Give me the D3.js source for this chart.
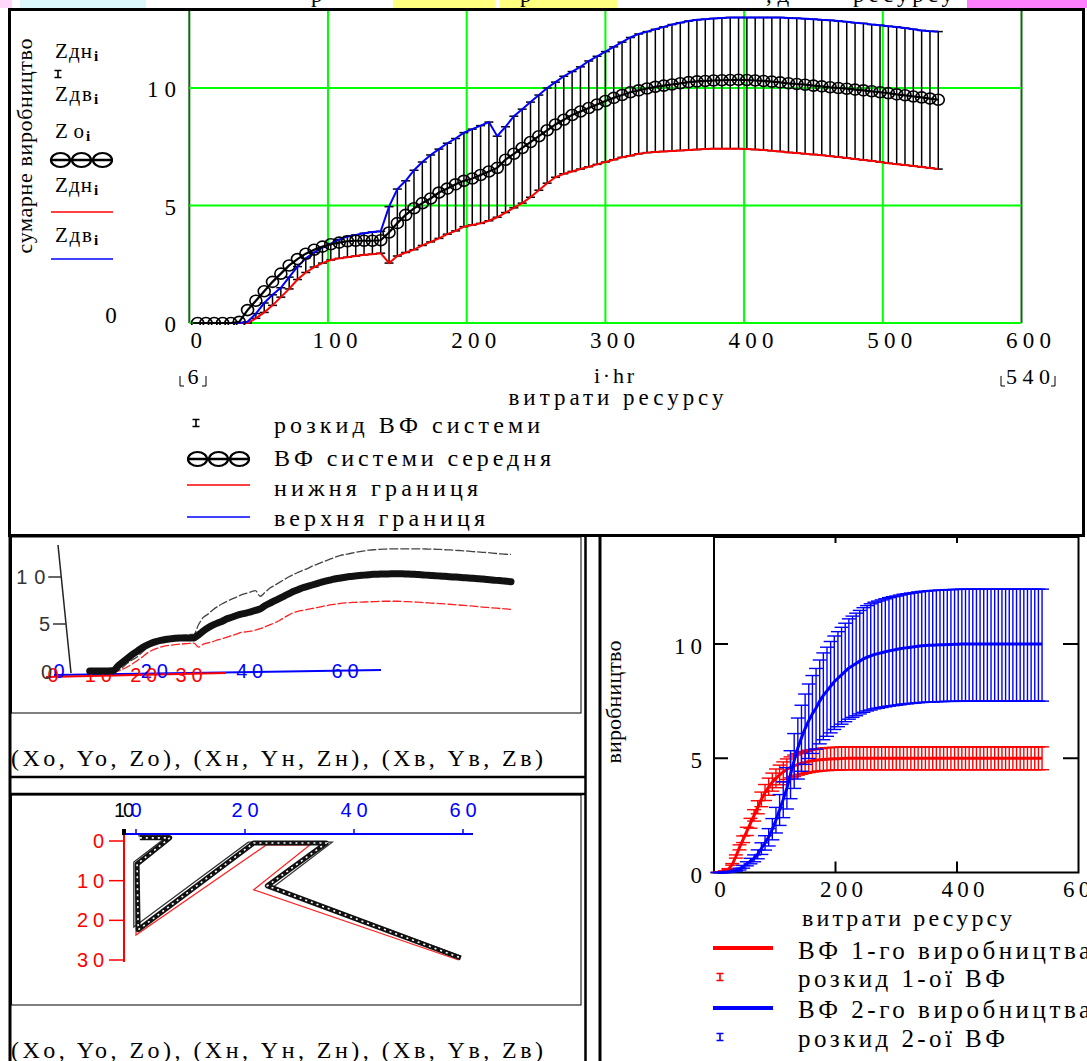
<!DOCTYPE html>
<html><head><meta charset="utf-8">
<script src="https://cdn.jsdelivr.net/npm/d3@7"></script>
<style>body{margin:0;background:#fff}svg{display:block}</style>
</head><body>
<svg id="c" width="1087" height="1061"></svg>
<script>
// ================= DATA =================
// main chart: resource spent i*hr (hr = 6), i = 1..90
const resource = [6,12,18,24,30,36,42,48,54,60,66,72,78,84,90,96,102,108,114,120,
 126,132,138,144,150,156,162,168,174,180,186,192,198,204,210,216,222,228,234,240,
 246,252,258,264,270,276,282,288,294,300,306,312,318,324,330,336,342,348,354,360,
 366,372,378,384,390,396,402,408,414,420,426,432,438,444,450,456,462,468,474,480,
 486,492,498,504,510,516,522,528,534,540];
// mean system output Zo
const zMean = [0,0,0,0,0,0.05,0.55,0.95,1.35,1.75,
 2.1,2.45,2.72,2.95,3.12,3.25,3.35,3.42,3.48,3.5,
 3.5,3.5,3.52,3.85,4.25,4.6,4.88,5.1,5.3,5.55,
 5.72,5.9,6.05,6.15,6.3,6.45,6.6,6.95,7.2,7.45,
 7.7,7.95,8.2,8.45,8.65,8.85,9.0,9.15,9.3,9.45,
 9.58,9.7,9.82,9.9,9.98,10.05,10.1,10.15,10.2,10.25,
 10.28,10.3,10.32,10.33,10.34,10.35,10.34,10.32,10.3,10.27,
 10.24,10.2,10.17,10.14,10.1,10.07,10.03,10.0,9.97,9.93,
 9.9,9.86,9.82,9.78,9.73,9.69,9.64,9.6,9.55,9.5];
// upper bound Zдв
const zUpper = [0,0,0,0,0,0,0.05,0.4,0.85,1.2,
 1.5,1.95,2.4,2.75,3.0,3.22,3.38,3.55,3.68,3.75,
 3.82,3.87,3.9,4.95,5.7,6.05,6.5,6.85,7.15,7.4,
 7.65,7.85,8.1,8.25,8.4,8.55,7.95,8.35,8.8,9.1,
 9.4,9.7,10.0,10.25,10.5,10.7,10.9,11.15,11.35,11.55,
 11.75,11.95,12.15,12.3,12.4,12.5,12.6,12.7,12.78,12.85,
 12.9,12.93,12.96,12.98,13.0,13.0,13.0,13.0,13.0,13.0,
 13.0,12.98,12.97,12.95,12.93,12.9,12.88,12.85,12.82,12.78,
 12.75,12.7,12.67,12.63,12.6,12.55,12.5,12.45,12.42,12.4];
// lower bound Zдн
const zLower = [0,0,0,0,0,0,0,0.2,0.45,0.75,
 1.1,1.45,1.85,2.15,2.38,2.55,2.68,2.75,2.8,2.85,
 2.9,2.93,2.97,2.55,2.85,3.0,3.12,3.3,3.45,3.6,
 3.78,3.92,4.1,4.17,4.24,4.35,4.5,4.7,4.9,5.1,
 5.35,5.65,5.95,6.2,6.35,6.45,6.55,6.65,6.75,6.85,
 6.95,7.05,7.12,7.2,7.25,7.28,7.3,7.32,7.34,7.36,
 7.38,7.4,7.42,7.42,7.42,7.42,7.4,7.38,7.36,7.33,
 7.3,7.26,7.23,7.2,7.17,7.14,7.1,7.06,7.02,6.98,
 6.94,6.9,6.85,6.8,6.76,6.72,6.68,6.64,6.6,6.55];
const mainXTicks = [0,100,200,300,400,500,600];
const mainYTicks = [0,5,10];

// bottom-right chart: two productions
const prod1 = [0,0.02,0.06,0.15,0.35,0.7,1.1,1.45,1.8,2.15,
 2.5,2.85,3.2,3.5,3.75,3.95,4.12,4.27,4.4,4.52,
 4.6,4.67,4.73,4.78,4.82,4.86,4.89,4.91,4.93,4.95,
 4.96,4.97,4.98,4.98,4.99,5,5,5,5,5,
 5,5,5,5,5,5,5,5,5,5, 5,5,5,5,5,5,5,5,5,5,
 5,5,5,5,5,5,5,5,5,5, 5,5,5,5,5,5,5,5,5,5, 5,5,5,5,5,5,5,5,5,5];
const prod1Low = [0,0.02,0.05,0.14,0.32,0.63,0.99,1.31,1.62,1.94,
 2.25,2.57,2.88,3.15,3.38,3.56,3.71,3.84,3.96,4.07,
 4.14,4.2,4.26,4.3,4.34,4.37,4.4,4.42,4.44,4.46,
 4.46,4.47,4.48,4.48,4.49,4.5,4.5,4.5,4.5,4.5,
 4.5,4.5,4.5,4.5,4.5,4.5,4.5,4.5,4.5,4.5, 4.5,4.5,4.5,4.5,4.5,4.5,4.5,4.5,4.5,4.5,
 4.5,4.5,4.5,4.5,4.5,4.5,4.5,4.5,4.5,4.5, 4.5,4.5,4.5,4.5,4.5,4.5,4.5,4.5,4.5,4.5, 4.5,4.5,4.5,4.5,4.5,4.5,4.5,4.5,4.5,4.5];
const prod1High = [0,0.02,0.07,0.17,0.39,0.77,1.21,1.6,1.98,2.37,
 2.75,3.14,3.52,3.85,4.13,4.35,4.53,4.7,4.84,4.97,
 5.06,5.14,5.2,5.26,5.3,5.35,5.38,5.4,5.42,5.45,
 5.46,5.47,5.48,5.48,5.49,5.5,5.5,5.5,5.5,5.5,
 5.5,5.5,5.5,5.5,5.5,5.5,5.5,5.5,5.5,5.5, 5.5,5.5,5.5,5.5,5.5,5.5,5.5,5.5,5.5,5.5,
 5.5,5.5,5.5,5.5,5.5,5.5,5.5,5.5,5.5,5.5, 5.5,5.5,5.5,5.5,5.5,5.5,5.5,5.5,5.5,5.5, 5.5,5.5,5.5,5.5,5.5,5.5,5.5,5.5,5.5,5.5];
const prod2 = [0,0,0.01,0.02,0.04,0.08,0.15,0.25,0.38,0.5,
 0.62,0.8,1.05,1.3,1.55,1.9,2.3,2.75,3.2,3.7,
 4.3,4.9,5.45,5.9,6.3,6.65,6.95,7.2,7.5,7.75,
 7.95,8.15,8.35,8.5,8.65,8.8,8.95,9.05,9.15,9.25,
 9.35,9.42,9.48,9.54,9.58,9.62,9.66,9.7,9.73,9.76,
 9.79,9.82,9.84,9.86,9.88,9.9,9.92,9.93,9.94,9.95,
 9.96,9.97,9.97,9.98,9.98,9.99,9.99,10,10,10,
 10,10,10,10,10,10,10,10,10,10, 10,10,10,10,10,10,10,10,10,10];
const prod2Low = [0,0,0.01,0.02,0.03,0.06,0.11,0.19,0.29,0.38,
 0.47,0.6,0.79,0.98,1.16,1.43,1.73,2.06,2.4,2.78,
 3.23,3.68,4.09,4.43,4.73,4.99,5.21,5.4,5.63,5.81,
 5.96,6.11,6.26,6.38,6.49,6.6,6.71,6.79,6.86,6.94,
 7.01,7.07,7.11,7.16,7.19,7.22,7.25,7.28,7.3,7.32,
 7.34,7.37,7.38,7.4,7.41,7.43,7.44,7.45,7.46,7.46,
 7.47,7.48,7.48,7.49,7.49,7.49,7.49,7.5,7.5,7.5,
 7.5,7.5,7.5,7.5,7.5,7.5,7.5,7.5,7.5,7.5, 7.5,7.5,7.5,7.5,7.5,7.5,7.5,7.5,7.5,7.5];
const prod2High = [0,0,0.01,0.02,0.05,0.1,0.19,0.31,0.47,0.62,
 0.77,0.99,1.3,1.61,1.92,2.36,2.85,3.41,3.97,4.59,
 5.33,6.08,6.76,7.32,7.81,8.25,8.62,8.93,9.3,9.61,
 9.86,10.11,10.35,10.54,10.73,10.91,11.1,11.22,11.35,11.47,
 11.59,11.68,11.76,11.83,11.88,11.93,11.98,12.03,12.07,12.1,
 12.14,12.18,12.2,12.23,12.25,12.28,12.3,12.31,12.33,12.34,
 12.35,12.36,12.36,12.38,12.38,12.39,12.39,12.4,12.4,12.4,
 12.4,12.4,12.4,12.4,12.4,12.4,12.4,12.4,12.4,12.4, 12.4,12.4,12.4,12.4,12.4,12.4,12.4,12.4,12.4,12.4];
const brXTicks = [0,200,400,600];
const brYTicks = [0,5,10];

// 3D panel (top view) projected paths, in (blue-axis units, red-axis units)
const topViewUpper = [[0.4,-1.3],[5.9,-1.3],[-0.4,5.3],[-0.4,21.7],[20.6,0.3],[36.0,0.3],[25.2,11.6],[59.6,29.0]];
const topViewMean  = [[0.7,-0.8],[6.2,-0.8],[0.2,5.8],[0.4,22.4],[21.6,0.5],[34.9,0.5],[24.1,11.3],[59.6,29.5]];
const topViewLower = [[0.9,-0.5],[5.5,-0.5],[0.0,6.3],[0.0,23.7],[23.9,1.0],[31.9,1.0],[21.6,12.3],[59.2,30.0]];
const p1RedTicks = [0,10,20,30];
const p1BlueTicks = [0,20,40,60];
const p1ZTicks = [0,5,10];
const p2RedTicks = [0,10,20,30];
const p2BlueTicks = [20,40,60];

// ================= DRAW =================
const svg = d3.select('#c');
const SERIF = "'Liberation Serif','Times New Roman',serif";
const SANS = "'Liberation Sans',Arial,sans-serif";
function txt(g, s, x, y, o = {}) {
  const t = g.append('text').attr('x', x).attr('y', y).text(s)
    .attr('font-family', o.ff || SERIF).attr('font-size', o.fs || 21)
    .attr('fill', o.fill || '#000').attr('text-anchor', o.anchor || 'start');
  if (o.len) t.attr('textLength', o.len).attr('lengthAdjust', o.adj || 'spacing');
  if (o.rot) t.attr('transform', `rotate(${o.rot},${x},${y})`);
  if (o.bold) t.attr('font-weight', 'bold');
  return t;
}
const defs = svg.append('defs');

// ---- top strip (cropped worksheet above) ----
const strip = svg.append('g');
strip.append('rect').attr('x',0).attr('y',0).attr('width',12).attr('height',8).attr('fill','#ffd8fa');
strip.append('rect').attr('x',20).attr('y',0).attr('width',126).attr('height',8).attr('fill','#dcf8fc');
strip.append('rect').attr('x',393).attr('y',0).attr('width',102).attr('height',8).attr('fill','#ffff80');
strip.append('rect').attr('x',500).attr('y',0).attr('width',117).attr('height',8).attr('fill','#ffff80');
strip.append('rect').attr('x',967).attr('y',0).attr('width',120).attr('height',8).attr('fill','#ff80ff');
txt(strip,'р',311,2,{fs:23});
txt(strip,'р',520,2,{fs:23});
txt(strip,', д',766,2,{fs:23});
txt(strip,'ресурсу',853,2,{fs:23,len:100});

// ---- frames ----
const fr = svg.append('g').attr('fill','none').attr('stroke','#000');
fr.append('rect').attr('x',9.5).attr('y',9.5).attr('width',1074).attr('height',526).attr('stroke-width',3);
fr.append('line').attr('x1',10).attr('x2',10).attr('y1',536).attr('y2',1061).attr('stroke-width',3);
fr.append('line').attr('x1',585.5).attr('x2',585.5).attr('y1',536).attr('y2',1061).attr('stroke-width',2.5);
fr.append('line').attr('x1',10).attr('x2',586).attr('y1',777).attr('y2',777).attr('stroke-width',2.5);
fr.append('line').attr('x1',10).attr('x2',586).attr('y1',794).attr('y2',794).attr('stroke-width',2.5);
fr.append('rect').attr('x',11.5).attr('y',537).attr('width',569.5).attr('height',176).attr('stroke-width',1);
fr.append('rect').attr('x',11.5).attr('y',795).attr('width',569.5).attr('height',210).attr('stroke-width',1);
fr.append('line').attr('x1',600).attr('x2',600).attr('y1',536).attr('y2',1061).attr('stroke-width',3);

// ================= MAIN CHART =================
const mx = d3.scaleLinear().domain([0,600]).range([189.3,1021.5]);
const my = d3.scaleLinear().domain([0,10]).range([323,88]);
defs.append('clipPath').attr('id','clipMain').append('rect')
  .attr('x',187).attr('y',11).attr('width',838).attr('height',314);
const mg = svg.append('g');
const plot = mg.append('g').attr('clip-path','url(#clipMain)');
// grid
plot.selectAll('.gv').data(mainXTicks).join('line')
  .attr('x1',d=>mx(d)).attr('x2',d=>mx(d)).attr('y1',my(0)).attr('y2',my(14))
  .attr('stroke',d=> (d===0||d===600)?'#0b6b0b':'#00ff00').attr('stroke-width',2);
plot.selectAll('.gh').data(mainYTicks).join('line')
  .attr('x1',mx(0)).attr('x2',mx(600)).attr('y1',d=>my(d)).attr('y2',d=>my(d))
  .attr('stroke','#00ff00').attr('stroke-width',2);
// error bars
const eb = plot.append('g').attr('stroke','#000').attr('stroke-width',1.5);
eb.selectAll('.v').data(resource).join('line')
  .attr('x1',d=>mx(d)).attr('x2',d=>mx(d))
  .attr('y1',(d,i)=>my(zLower[i])).attr('y2',(d,i)=>my(zUpper[i]));
eb.selectAll('.t').data(resource).join('line')
  .attr('x1',d=>mx(d)-4.5).attr('x2',d=>mx(d)+4.5)
  .attr('y1',(d,i)=>my(zUpper[i])).attr('y2',(d,i)=>my(zUpper[i]));
eb.selectAll('.b').data(resource).join('line')
  .attr('x1',d=>mx(d)-4.5).attr('x2',d=>mx(d)+4.5)
  .attr('y1',(d,i)=>my(zLower[i])).attr('y2',(d,i)=>my(zLower[i]));
const lineM = arr => d3.line().x((d,i)=>mx(resource[i])).y(d=>my(d))(arr);
plot.append('path').attr('d',lineM(zLower)).attr('fill','none').attr('stroke','#ff0000').attr('stroke-width',2);
plot.append('path').attr('d',lineM(zUpper)).attr('fill','none').attr('stroke','#0000ff').attr('stroke-width',2);
plot.append('path').attr('d',lineM(zMean)).attr('fill','none').attr('stroke','#000').attr('stroke-width',2.2);
plot.selectAll('.mc').data(zMean).join('ellipse')
  .attr('cx',(d,i)=>mx(resource[i])).attr('cy',d=>my(d)).attr('rx',6).attr('ry',5.5)
  .attr('fill','none').attr('stroke','#000').attr('stroke-width',1.6);

// axis labels
mainXTicks.forEach(t => {
  const s = String(t);
  txt(mg, s, mx(t)+7, 348, {fs:23, anchor:'middle', len: s.length===1?12:45});
});
mainYTicks.forEach(t => {
  const s = String(t);
  txt(mg, s, 176, my(t)+9, {fs:23, anchor:'end', len: s.length===1?12:29});
});
txt(mg,'0',111,323,{fs:23,anchor:'middle',len:12});
txt(mg,'сумарне виробництво',32,146,{fs:22,anchor:'middle',rot:-90,len:215});
// range markers
function bracketed(g, s, x0, x1, base){
  txt(g, s, (x0+x1)/2, base, {fs:22, anchor:'middle', len:(x1-x0)-10});
  g.append('path').attr('d',`M${x0},${base-8}V${base+2}H${x0+4}M${x1},${base-8}V${base+2}H${x1-4}`)
    .attr('fill','none').attr('stroke','#000').attr('stroke-width',1);
}
bracketed(mg,'6',180,206,384);
bracketed(mg,'540',1001,1055,384);
txt(mg,'i·hr',614,383,{fs:22,anchor:'middle',len:40});
txt(mg,'витрати ресурсу',616,405,{fs:23,anchor:'middle',len:215});

// left legend
function ibeam(g, x, y, color){
  g.append('path').attr('d',`M${x-3.5},${y-3.5}H${x+3.5}M${x},${y-3.5}V${y+3.5}M${x-3.5},${y+3.5}H${x+3.5}`)
    .attr('stroke',color).attr('stroke-width',1.6).attr('fill','none');
}
function beads(g, x0, y){
  g.append('line').attr('x1',x0).attr('x2',x0+63).attr('y1',y).attr('y2',y).attr('stroke','#000').attr('stroke-width',2.5);
  [10.5,31.5,52.5].forEach(o => g.append('ellipse').attr('cx',x0+o).attr('cy',y).attr('rx',9.5).attr('ry',7)
    .attr('fill','none').attr('stroke','#000').attr('stroke-width',2.2));
}
function zlab(g, main, x, y, len){
  txt(g, main, x, y, {fs:21, len:len});
  txt(g, 'i', x+len+2, y+3, {fs:15, bold:true});
}
zlab(mg,'Zдн',55,58,37);
ibeam(mg,58,74,'#000');
zlab(mg,'Zдв',55,101,37);
zlab(mg,'Zo',55,138,29);
beads(mg,50,160);
zlab(mg,'Zдн',55,192,37);
mg.append('line').attr('x1',51).attr('x2',113).attr('y1',212).attr('y2',212).attr('stroke','#ff0000').attr('stroke-width',1.5);
zlab(mg,'Zдв',55,242,37);
mg.append('line').attr('x1',51).attr('x2',113).attr('y1',259).attr('y2',259).attr('stroke','#0000ff').attr('stroke-width',1.5);

// bottom legend
ibeam(mg,196,423,'#000');
txt(mg,'розкид ВФ системи',274,433,{fs:24,len:266});
beads(mg,187,459);
txt(mg,'ВФ системи середня',274,466,{fs:24,len:277});
mg.append('line').attr('x1',187).attr('x2',250).attr('y1',485).attr('y2',485).attr('stroke','#ff0000').attr('stroke-width',1.5);
txt(mg,'нижня границя',274,496,{fs:24,len:204});
mg.append('line').attr('x1',187).attr('x2',250).attr('y1',517).attr('y2',517).attr('stroke','#0000ff').attr('stroke-width',1.5);
txt(mg,'верхня границя',274,526,{fs:24,len:211});

// ================= PANEL 1 (3D side view) =================
const p1 = svg.append('g');
const p1x = d3.scaleLinear().domain([0,540]).range([85,511]);
const p1y = d3.scaleLinear().domain([0,10]).range([671,577]);
const p1Blue = d3.scaleLinear().domain([0,60]).range([59,345]);
const p1Red = d3.scaleLinear().domain([0,30]).range([53,189]);
p1.append('line').attr('x1',54).attr('y1',675).attr('x2',381).attr('y2',670).attr('stroke','#0000ff').attr('stroke-width',2);
p1.append('line').attr('x1',46).attr('y1',677).attr('x2',226).attr('y2',673).attr('stroke','#ff0000').attr('stroke-width',2);
p1BlueTicks.forEach(t => txt(p1, String(t), p1Blue(t), 678, {ff:SANS, fs:20, fill:'#0000ff', anchor:'middle', len: t===0?11:27}));
p1RedTicks.forEach(t => txt(p1, String(t), p1Red(t), 682, {ff:SANS, fs:20, fill:'#ff0000', anchor:'middle', len: t===0?13:27}));
// z axis (slanted)
p1.append('line').attr('x1',58).attr('y1',545).attr('x2',71).attr('y2',673).attr('stroke','#222').attr('stroke-width',1.5);
p1ZTicks.forEach(t => {
  const y = p1y(t) + (t===0?1:0);
  const ax = 58 + (y-545)/128*13;
  if (t>0) p1.append('line').attr('x1',ax-13).attr('x2',ax).attr('y1',y).attr('y2',y).attr('stroke','#333').attr('stroke-width',1.5);
  txt(p1, String(t), t===0?52:ax-16, y+7, {ff:SANS, fs:20, fill:'#333', anchor:'end', len: t===10?29:12});
});
const lineP1 = arr => d3.line().x((d,i)=>p1x(resource[i])).y(d=>p1y(d)).curve(d3.curveMonotoneX)(arr);
p1.append('path').attr('d',lineP1(zUpper)).attr('fill','none').attr('stroke','#444').attr('stroke-width',1.3).attr('stroke-dasharray','9,2');
p1.append('path').attr('d',lineP1(zLower)).attr('fill','none').attr('stroke','#ff2020').attr('stroke-width',1.3).attr('stroke-dasharray','9,2');
p1.append('path').attr('d',lineP1(zMean)).attr('fill','none').attr('stroke','#111').attr('stroke-width',7).attr('stroke-linecap','round');
txt(p1,'(Xo, Yo, Zo), (Xн, Yн, Zн), (Xв, Yв, Zв)',11,766,{fs:24,len:532});

// ================= PANEL 2 (3D top view) =================
const p2 = svg.append('g');
const p2x = d3.scaleLinear().domain([0,60]).range([136,463]);
const p2y = d3.scaleLinear().domain([0,30]).range([841,960]);
p2.append('line').attr('x1',126).attr('x2',473).attr('y1',834).attr('y2',834).attr('stroke','#0000ff').attr('stroke-width',2);
[0].concat(p2BlueTicks).forEach(t => p2.append('line').attr('x1',p2x(t)).attr('x2',p2x(t)).attr('y1',834).attr('y2',829).attr('stroke','#0000ff').attr('stroke-width',1.5));
p2BlueTicks.forEach(t => txt(p2, String(t), p2x(t), 817, {ff:SANS, fs:20, fill:'#0000ff', anchor:'middle', len:27}));
txt(p2,'10',124,817,{ff:SANS, fs:20, fill:'#000', anchor:'middle', len:20});
txt(p2,'0',136,817,{ff:SANS, fs:20, fill:'#0000ff', anchor:'middle', len:11});
p2.append('rect').attr('x',122).attr('y',829).attr('width',4).attr('height',6).attr('fill','#000');
p2.append('line').attr('x1',124).attr('x2',124).attr('y1',835).attr('y2',962).attr('stroke','#ff0000').attr('stroke-width',2);
p2RedTicks.forEach(t => {
  p2.append('line').attr('x1',109).attr('x2',124).attr('y1',p2y(t)).attr('y2',p2y(t)).attr('stroke','#ff0000').attr('stroke-width',1.5);
  txt(p2, String(t), 104, p2y(t)+7, {ff:SANS, fs:20, fill:'#ff0000', anchor:'end', len: t===0?12:27});
});
const lineP2 = d3.line().x(d=>p2x(d[0])).y(d=>p2y(d[1]));
p2.append('path').attr('d',lineP2(topViewLower)).attr('fill','none').attr('stroke','#ff2020').attr('stroke-width',1.3);
p2.append('path').attr('d',lineP2(topViewUpper)).attr('fill','none').attr('stroke','#333').attr('stroke-width',1.3);
p2.append('path').attr('d',lineP2(topViewMean)).attr('fill','none').attr('stroke','#111').attr('stroke-width',5).attr('stroke-linejoin','round');
p2.append('path').attr('d',lineP2(topViewMean)).attr('fill','none').attr('stroke','#fff').attr('stroke-width',1.6).attr('stroke-dasharray','2,4');
txt(p2,'(Xo, Yo, Zo), (Xн, Yн, Zн), (Xв, Yв, Zв)',11,1058,{fs:24,len:532});

// ================= BOTTOM-RIGHT CHART =================
const br = svg.append('g');
const bx = d3.scaleLinear().domain([0,600]).range([714,1078.5]);
const by = d3.scaleLinear().domain([0,10]).range([872.5,644]);
br.append('rect').attr('x',714).attr('y',537).attr('width',364.5).attr('height',335.5)
  .attr('fill','none').attr('stroke','#000').attr('stroke-width',2);
brXTicks.filter(t=>t>0&&t<600).forEach(t => {
  br.append('line').attr('x1',bx(t)).attr('x2',bx(t)).attr('y1',by(0)).attr('y2',by(0)-11).attr('stroke','#000').attr('stroke-width',2);
  br.append('line').attr('x1',bx(t)).attr('x2',bx(t)).attr('y1',537).attr('y2',543).attr('stroke','#000').attr('stroke-width',2);
});
brYTicks.filter(t=>t>0).forEach(t => {
  br.append('line').attr('x1',714).attr('x2',728).attr('y1',by(t)).attr('y2',by(t)).attr('stroke','#000').attr('stroke-width',2);
  br.append('line').attr('x1',1063).attr('x2',1078).attr('y1',by(t)).attr('y2',by(t)).attr('stroke','#000').attr('stroke-width',2);
});
brXTicks.forEach(t => {
  const s = String(t);
  txt(br, s, bx(t)+6, 897, {fs:23, anchor:'middle', len: s.length===1?13:43});
});
brYTicks.forEach(t => {
  const s = String(t);
  txt(br, s, 702, by(t)+10, {fs:23, anchor:'end', len: s.length===1?12:28});
});
txt(br,'виробництво',621,702,{fs:22,anchor:'middle',rot:-90,len:123});
txt(br,'витрати ресурсу',907,926,{fs:24,anchor:'middle',len:210});

function errSeries(g, mean, lo, hi, color){
  const e = g.append('g').attr('stroke',color).attr('stroke-width',1.4);
  e.selectAll('.v').data(resource).join('line')
    .attr('x1',d=>bx(d)).attr('x2',d=>bx(d)).attr('y1',(d,i)=>by(lo[i])).attr('y2',(d,i)=>by(hi[i]));
  e.selectAll('.t').data(resource).join('line')
    .attr('x1',d=>bx(d)-7).attr('x2',d=>bx(d)+7).attr('y1',(d,i)=>by(hi[i])).attr('y2',(d,i)=>by(hi[i]));
  e.selectAll('.b').data(resource).join('line')
    .attr('x1',d=>bx(d)-7).attr('x2',d=>bx(d)+7).attr('y1',(d,i)=>by(lo[i])).attr('y2',(d,i)=>by(lo[i]));
  g.append('path').attr('d', d3.line().x((d,i)=>bx(resource[i])).y(d=>by(d))(mean))
    .attr('fill','none').attr('stroke',color).attr('stroke-width',3);
}
errSeries(br, prod1, prod1Low, prod1High, '#ff0000');
errSeries(br, prod2, prod2Low, prod2High, '#0000ff');

// legend
br.append('line').attr('x1',713).attr('x2',773).attr('y1',948).attr('y2',948).attr('stroke','#ff0000').attr('stroke-width',4);
txt(br,'ВФ 1-го виробництва',798,959,{fs:25,len:292});
ibeam(br,720,977,'#ff0000');
txt(br,'розкид 1-ої ВФ',798,987,{fs:25,len:207});
br.append('line').attr('x1',713).attr('x2',773).attr('y1',1008).attr('y2',1008).attr('stroke','#0000ff').attr('stroke-width',4);
txt(br,'ВФ 2-го виробництва',798,1018,{fs:25,len:292});
ibeam(br,720,1037,'#0000ff');
txt(br,'розкид 2-ої ВФ',798,1047,{fs:25,len:207});
</script>
</body></html>
